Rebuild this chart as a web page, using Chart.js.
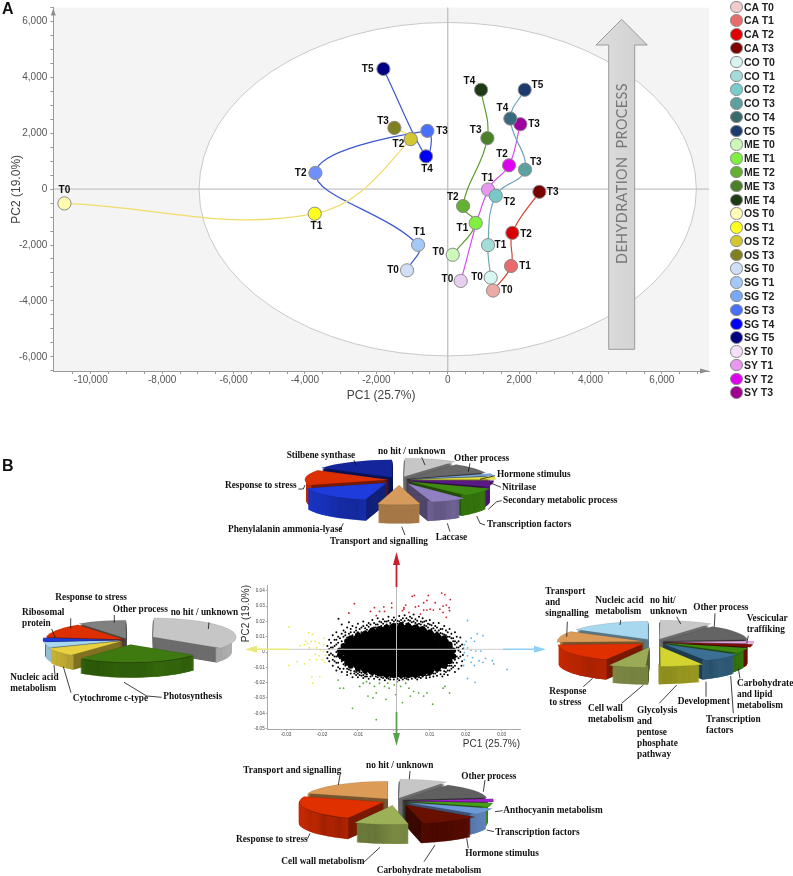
<!DOCTYPE html>
<html><head><meta charset="utf-8">
<script src="https://cdn.jsdelivr.net/npm/chart.js@4"></script>
<style>
html,body{margin:0;padding:0;background:#fff;width:793px;height:876px;overflow:hidden}
canvas{position:absolute}
#overlay{position:absolute;left:0;top:0;width:793px;height:876px;pointer-events:none}
.lab{position:absolute;font:bold 9.3px/11px "Liberation Serif",serif;color:#111;white-space:pre}
.panel{position:absolute;font:bold 16px "Liberation Sans",sans-serif;color:#111}
.leg{position:absolute;left:730px;font:bold 10.5px "Liberation Sans",sans-serif;color:#222;height:13px;line-height:13px;padding-left:14px;white-space:pre}
.leg i{position:absolute;left:0;top:0;width:10.5px;height:10.5px;border-radius:50%;border:1px solid #8a8a8a}
</style></head><body>
<canvas id="pca" width="720" height="406" style="left:0;top:0"></canvas>
<canvas id="mini" width="290" height="175" style="left:240px;top:575px"></canvas>
<canvas id="pieTop" width="260" height="260" style="left:269px;top:350px"></canvas>
<canvas id="pieLeft" width="260" height="260" style="left:-2px;top:510px"></canvas>
<canvas id="pieRight" width="260" height="260" style="left:525px;top:512px"></canvas>
<canvas id="pieBottom" width="260" height="260" style="left:265px;top:671px"></canvas>
<svg id="overlay" xmlns="http://www.w3.org/2000/svg"></svg>
<div class="panel" style="left:2px;top:0">A</div>
<div class="panel" style="left:2px;top:457px">B</div>
<script>
// ---- Panel A data ----
const timeNames=['T0','T1','T2','T3','T4','T5'];
const caPC1=[1270,1774,1811,2568];
const caPC2=[-3630,-2751,-1565,-95];
const coPC1=[1204,1130,1345,2166,1755,2157];
const coPC2=[-3167,-2004,-237,700,2526,3558];
const mePC1=[140,784,430,1111,934];
const mePC2=[-2348,-1210,-605,1826,3558];
const osPC1=[-10738,-3725,-1036,-1494];
const osPC2=[-510,-878,1791,2194];
const sgPC1=[-1139,-831,-3707,-570,-607,-1802];
const sgPC2=[-2906,-1992,581,2087,1174,4305];
const syPC1=[364,1130,1718,2035];
const syPC2=[-3285,-12,854,2325];
const caColors=['#eca9a6','#e86a6a','#d80000','#780000'];
const coColors=['#d8f6f2','#a4dcd8','#78c8c8','#5ca0a0','#3a6a80','#1c3a6e'];
const meColors=['#ccf8b8','#80f040','#64b030','#4a8028','#1e3a14'];
const osColors=['#fffcb0','#ffff20','#d4c830','#808020'];
const sgColors=['#cfe0f6','#a4c8f8','#6f90f8','#4870f8','#0000f0','#000080'];
const syColors=['#e6cff0','#e898f0','#e000f0','#a000a0'];
const xTicksA=[-10000,-8000,-6000,-4000,-2000,0,2000,4000,6000];
const yTicksA=[-6000,-4000,-2000,0,2000,4000,6000];
const ellipseRadiusPC1=6966, ellipseRadiusPC2=5968;

// ---- Panel A layout (pixel offsets of the T labels, kept apart from values) ----
const labelOffsets={
 CA:[[13.7,0],[14,0],[13.7,1],[13.3,0]],
 CO:[[-13.7,0],[12.3,0],[13.7,6],[10.7,-7.7],[-8,-10],[12.7,-5]],
 ME:[[-14.3,-2],[-13.3,5],[-10.3,-9],[-11.7,-7.7],[-11.7,-8.3]],
 OS:[[0,-12.7],[1.7,12.7],[-12.3,4.7],[-11.3,-6.7]],
 SG:[[-14,0],[1.3,-12.7],[-14.7,.7],[14.7,0],[1,13],[-15.7,0]],
 SY:[[-13.3,-1.7],[-.7,-11.7],[-7,-11],[13.7,0]]
};
function series(name,xs,ys,colors,lineColor){
 return {label:name,data:xs.map((x,i)=>({x,y:ys[i]})),showLine:true,tension:.4,borderColor:lineColor,borderWidth:1.2,
  pointBackgroundColor:colors,pointBorderColor:'#8c8c8c',pointBorderWidth:1,pointRadius:6.6,pointHoverRadius:6.6};
}
const pcaBackdrop={id:'pcaBackdrop',
 beforeDraw(c){const {ctx,chartArea:a,scales:{x,y}}=c;ctx.save();ctx.fillStyle='#f4f4f4';ctx.fillRect(a.left,a.top,a.width,a.height);
  const cx=x.getPixelForValue(0),cy=y.getPixelForValue(0);
  ctx.beginPath();ctx.ellipse(cx,cy,x.getPixelForValue(ellipseRadiusPC1)-cx,cy-y.getPixelForValue(ellipseRadiusPC2),0,0,Math.PI*2);
  ctx.fillStyle='#fff';ctx.fill();ctx.strokeStyle='#c9c9c9';ctx.lineWidth=1;ctx.stroke();
  ctx.strokeStyle='#c4c4c4';ctx.lineWidth=1.4;ctx.beginPath();ctx.moveTo(a.left,cy);ctx.lineTo(a.right,cy);ctx.moveTo(cx,a.top);ctx.lineTo(cx,a.bottom);ctx.stroke();ctx.restore();},
 afterDraw(c){const {ctx,chartArea:a}=c;ctx.save();ctx.fillStyle='#8c8c8c';
  ctx.beginPath();ctx.moveTo(a.left,a.top+1);ctx.lineTo(a.left-2.5,a.top+8);ctx.lineTo(a.left+2.5,a.top+8);ctx.fill();
  ctx.beginPath();ctx.moveTo(a.right,a.bottom);ctx.lineTo(a.right-9,a.bottom-2.5);ctx.lineTo(a.right-9,a.bottom+2.5);ctx.fill();
  ctx.font='bold 10px "Liberation Sans",sans-serif';ctx.fillStyle='#111';ctx.textAlign='center';ctx.textBaseline='middle';
  c.data.datasets.forEach((d,i)=>{const m=c.getDatasetMeta(i),off=labelOffsets[d.label];
   m.data.forEach((p,j)=>ctx.fillText(timeNames[j],p.x+off[j][0],p.y+off[j][1]));});
  ctx.restore();}
};
function minorTicks(scale,from,to,step){const t=[];for(let v=from;v<=to;v+=step)t.push({value:v});scale.ticks=t;}
const noEdge=s=>{s.paddingTop=0;s.paddingBottom=0;s.paddingLeft=0;s.paddingRight=0;};
new Chart(document.getElementById('pca'),{type:'scatter',
 data:{datasets:[series('CA',caPC1,caPC2,caColors,'#d2452c'),series('CO',coPC1,coPC2,coColors,'#6ea4b8'),series('ME',mePC1,mePC2,meColors,'#5f9a2e'),
  series('OS',osPC1,osPC2,osColors,'#f0dc6a'),series('SG',sgPC1,sgPC2,sgColors,'#3a58d0'),series('SY',syPC1,syPC2,syColors,'#d84cf0')]},
 plugins:[pcaBackdrop],
 options:{responsive:false,animation:false,layout:{padding:{top:5,right:11,left:0,bottom:0}},
  plugins:{legend:{display:false},tooltip:{enabled:false}},
  scales:{
   x:{type:'linear',min:-11050,max:7320,afterFit:s=>{s.height=35;noEdge(s)},afterBuildTicks:s=>minorTicks(s,-10500,7000,500),
    border:{color:'#999'},grid:{drawOnChartArea:false,color:'#999',tickLength:3},
    ticks:{autoSkip:false,maxRotation:0,padding:0,color:'#555',font:{family:'Liberation Sans',size:10},callback:v=>xTicksA.includes(v)?v.toLocaleString('en-US'):''},
    title:{display:true,text:'PC1 (25.7%)',color:'#444',font:{family:'Liberation Sans',size:12},padding:{top:0,bottom:3}}},
   y:{type:'linear',min:-6510,max:6500,afterFit:s=>{s.width=53.3;noEdge(s)},afterBuildTicks:s=>minorTicks(s,-6500,6500,500),
    border:{color:'#999'},grid:{drawOnChartArea:false,color:'#999',tickLength:3},
    ticks:{autoSkip:false,padding:3,color:'#555',font:{family:'Liberation Sans',size:10},callback:v=>yTicksA.includes(v)?v.toLocaleString('en-US'):''},
    title:{display:true,text:'PC2 (19.0%)',color:'#444',font:{family:'Liberation Sans',size:12},padding:{top:9,bottom:0}}}
  }}});

// ---- Legend ----
const legendNames=['CA T0','CA T1','CA T2','CA T3','CO T0','CO T1','CO T2','CO T3','CO T4','CO T5','ME T0','ME T1','ME T2','ME T3','ME T4','OS T0','OS T1','OS T2','OS T3','SG T0','SG T1','SG T2','SG T3','SG T4','SG T5','SY T0','SY T1','SY T2','SY T3'];
const legendColors=['#f0cccc','#e86a6a','#e00000','#800000','#d8f4f0','#a4dcd8','#78cccc','#5ca0a0','#3a6a6a','#1c3a6e','#ccf8b8','#80f040','#64b030','#4a8028','#1e3a14','#fffcb8','#ffff20','#d4c830','#808020','#cfe0f6','#a4c8f8','#78a8f8','#4870f8','#0000f8','#000080','#f4e0f8','#e898f0','#e000f0','#a00090'];
legendNames.forEach((n,i)=>{const d=document.createElement('div');d.className='leg';d.style.top=(0.6+i*13.78)+'px';d.textContent=n;
 const dot=document.createElement('i');dot.style.background=legendColors[i];d.appendChild(dot);document.body.appendChild(d);});

// ---- Panel B scatter data (in thousandths) ----
const miniTicksX=[-0.03,-0.02,-0.01,0,0.01,0.02,0.03];
const miniTicksY=[-0.05,-0.04,-0.03,-0.02,-0.01,0,0.01,0.02,0.03,0.04];
const redGenes=[[-11,31.6],[-12.5,25.5],[-6.5,26.5],[-5.4,29],[-4,26.5],[-2.8,29.5],[-.6,32],[-.6,29],[-2.6,26.5],[-4.9,23.8],[2.4,27],[2.8,29],[3.3,30.7],[5.1,36.4],[5.7,37],[9.6,37],[9.2,33.7],[8.3,32.2],[6,29.5],[6.9,30],[8.3,27.4],[9.2,27.4],[10.1,28],[11,27.4],[13.3,38.5],[14.2,37.5],[15.7,34.3],[13.7,30],[14.6,30.7],[15.4,29],[15.5,27],[12.8,28],[11.5,32.2],[13.7,25.9],[14.6,22.7],[7.4,24.8],[4.2,25.9],[2.8,28]];
const yellowGenes=[[-29.2,16.4],[-23.7,12.6],[-22.6,11.6],[-24.5,7],[-26,4.2],[-24.9,4.8],[-24,5.5],[-23,7],[-21.9,7],[-20.8,5.9],[-19.5,9],[-19.5,4.8],[-23.5,2.7],[-21.5,2.7],[-20.4,1.3],[-19.5,.6],[-21.9,-1.5],[-20.8,-2.5],[-23.5,-5],[-21.5,-5],[-19.9,-5],[-26.9,-6.3],[-29.2,-8.8],[-24.9,-7.8],[-22.8,-16.2],[-20.6,-16.2],[-22.6,-20.4],[-19.2,-6.7],[-19,-2.1]];
const greenGenes=[[-15.5,-18.3],[-15,-23.6],[-14,-23.6],[-9.5,-22.5],[-8.5,-20.4],[-6.7,-20.4],[-5.4,-22.5],[-4,-20.4],[-2.6,-22.5],[-1.3,-23.6],[.1,-21.5],[1.9,-22.5],[3.3,-20.4],[4.2,-23.6],[5.5,-25.7],[6.9,-26.7],[9.2,-26.7],[8.3,-28.8],[4.6,-28.8],[-7.2,-28.8],[-5.8,-29.9],[-4.9,-26.7],[-2.2,-30.9],[.5,-27.8],[2.4,-33],[10.8,-34.1],[-11.5,-36.8],[-4.9,-44.2],[14.2,-22.5],[15.5,-26.7],[13.7,-23.6],[-1.7,-20.4],[1,-19.4],[-7.6,-19.4]];
const blueGenes=[[20.5,20.6],[23.2,11.8],[24.8,10.7],[21.5,9],[22.4,7],[19.6,4.8],[20.5,2.7],[21.5,1.3],[22.8,.6],[24.2,.6],[19.6,-.4],[20.5,-2.5],[21.9,-3.6],[19.6,-5],[21.5,-6.7],[23.7,-5.7],[24.8,-6.7],[27.4,-5.7],[27.8,-7.8],[25.5,-4.2],[31.5,-11.4],[19.4,-8.8],[20.5,-17.3],[22.6,-19.8],[22.4,-8.8],[20.1,7],[19.4,2.7]];
const cloudCore=[[-3,10],[0,10.5],[3,11],[6,10],[-8,5],[-5,5.5],[-2,5],[1,5],[4,5.5],[7,5],[10,4.5],[-10,0],[-7,0],[-4,0],[-1,0],[2,0],[5,0],[8,0],[11,0],[13.5,0],[-8,-5],[-5,-5],[-2,-5],[1,-5],[4,-5],[7,-5],[10,-5],[12,-4.5],[-3,-9.5],[0,-10],[3,-10],[6,-9.5]];
const cloudShell=[[-12.5,0],[-12.5,3],[-12.5,-3],[-11.5,6],[-11.5,-6],[-10,8],[-10,-8],[-8,10],[-8,-10],[-6,12],[-6,-11.5],[-4,13],[-4,-12.5],[-2,14],[-2,-13],[0,15],[0,-13.5],[2,15],[2,-13.5],[4,15],[4,-13.5],[6,14.5],[6,-13],[8,13],[8,-12.5],[10,11],[10,-11],[12,9],[12,-9],[14,6],[14,-6],[15,3],[15,-3],[15.5,0]];
const cloudBand=[[-14,0],[-14,4],[-14,-4],[-13,7],[-13,-7],[-12,9],[-12,-9],[-10,11],[-10,-11],[-8,12],[-8,-12],[-6,14],[-6,-13],[-4,15],[-4,-14],[-2,16],[-2,-15],[0,17],[0,-15],[2,17.5],[2,-15],[4,17],[4,-15],[6,16],[6,-15],[8,15],[8,-14],[10,13],[10,-13],[12,11],[12,-11],[14,9],[14,-9],[15.5,5],[15.5,-6],[16.5,1],[16.5,-3],[-15,1],[-15,-2]];
const cloudFringe=[[-18,8],[-17,11],[-16,13],[-15.4,21.7],[-14.5,18],[-14,14],[-13.5,11],[-13,16],[-12.5,19.5],[-12,13],[-11.5,17],[-11,10],[-10.5,14],[-10,18.5],[-9.5,12],[-9,16],[-8.5,20],[-8,13.5],[-7.5,17.5],[-7,19],[-6.5,14.5],[-6,21],[-5.5,16],[-5,18],[-4.5,22],[-4,15.5],[-3.5,19.5],[-3,21.5],[-2.5,17],[-2,20],[-1.5,23],[-1,17.5],[-.5,21],[0,22.5],[.5,18],[1,20.5],[1.5,23.5],[2,19],[2.5,22],[3,24],[3.5,18.5],[4,21],[4.5,23],[5,19.5],[5.5,24.5],[6,21.5],[6.5,18],[7,23],[7.5,20],[8,22],[8.5,17.5],[9,20.5],[9.5,18.5],[10,21],[10.5,15],[11,19],[11.5,17],[12,13],[12.5,19],[13,15],[13.5,12],[14,17],[14.5,14],[15,10],[15.5,15],[16,12],[16.5,9],[17,13],[17.5,10],[18,7],[18.5,9.5],[19,5],
[-18.5,4],[-18.5,0],[-18.5,-4],[-18,2],[-18,-2],[-18,-6],[-17.5,6],[-17.5,-1],[-17,3],[-17,-5],[-17,-9],[-16.5,8],[-16.5,-3],[-16,0],[-16,5],[-16,-7],[-16,-12],[-15.5,10],[-15.5,-10],[-15,2],[-15,-4],[-14.5,7],[-14.5,-13],[-14,-8],[-13.5,4],[-13,-11],[-13,-15],
[19.2,2],[19.2,-2],[19,-6],[18.8,-9],[18.5,0],[18.5,4],[18,-4],[18,-11],[17.5,3],[17.5,-7],[17,7],[17,-2],[17,-13],[16.5,-10],[16,-6],[16,3.5],[15.5,-12],[15.5,6],[15,-9],[15,-15],
[-12,-14],[-11.5,-16.5],[-11,-12.5],[-10.5,-15],[-10,-16.5],[-9.5,-13],[-9,-15.5],[-8.5,-17],[-8,-14],[-7.5,-16],[-7,-17.5],[-6.5,-13.5],[-6,-15.5],[-5.5,-17.5],[-5,-14.5],[-4.5,-16.5],[-4,-18],[-3.5,-15],[-3,-17],[-2.5,-18.5],[-2,-15.5],[-1.5,-17.5],[-1,-18],[-.5,-16],[0,-18],[.5,-15.5],[1,-17.5],[1.5,-18.5],[2,-16],[2.5,-18],[3,-15.5],[3.5,-17.5],[4,-18],[4.5,-16],[5,-17.5],[5.5,-15],[6,-17],[6.5,-18],[7,-15.5],[7.5,-17],[8,-16],[8.5,-14],[9,-17],[9.5,-15],[10,-16.5],[10.5,-13.5],[11,-16],[11.5,-14],[12,-15.5],[12.5,-12],[13,-14.5],[13.5,-16],[14,-12.5],[14.5,-10.5],
[-17.5,3],[-17,-2],[-16.5,4],[-16.5,-6],[-16,8],[-16,-3],[-15.5,6],[-15.5,-7],[-15,9],[-15,-11],[-14.5,12],[-14.5,-6],[-14,10],[-14,-11],[-13.5,13],[-13.5,-9],[-13,9.5],[-13,-13],[-12.5,12],[-12.5,-11.5],[-12,15],[-12,-12],[-11.5,11],[-11,13],[-11,-14],[-10.5,16],[-10.5,-13],[-10,13],[-9.5,15],[-9.5,-15],[-9,13],[-9,-13.5],[-8.5,17],[-8.5,-15],[-8,15.5],[-7.5,14.5],[-7.5,-14.5],[-7,16.5],[-6.5,18],[-6.5,-16],[-6,15.5],[-5.5,19],[-5,16],[-5,-16],[-4.5,18],[-4,20],[-3.5,17],[-3.5,-16.5],[-3,18.5],[-2.5,20],[-2,18],[-1.5,20.5],[-1,19],[-.5,18],[0,20],[.5,21],[1,18.5],[1.5,20],[2,21],[2.5,19.5],[3,20.5],[3.5,22],[4,19],[4.5,20.5],[5,22],[5.5,20],[6,19],[6.5,20.5],[7,18.5],[7.5,18],[8,19.5],[8.5,20],[9,17],[9.5,16],[10,18],[10.5,17.5],[11,15.5],[11.5,14],[12,16],[12.5,14],[13,12.5],[13.5,15],[14,11.5],[14.5,11],[15,13],[15.5,10],[16,9],[16.5,7],[17,5],[17.5,6],[18,3],[18.5,-3],[18,1],[17.5,-3],[17,-5],[17,-9],[16.5,-7],[16,-9],[16,-11],[15.5,-9],[15,-12],[14.5,-13],[14,-14.5],[13,-12],[12,-13],[11,-14],[10,-15],[9,-15.5],[8,-15.5],[7,-16.5],[6,-16],[5,-16],[4,-16.5],[3,-17],[2,-17],[1,-16],[0,-16.5],[-1,-16.5],[-2,-17],[-6,-14.5],[-8,-16],[-10,-14]];
const toPts=a=>a.map(p=>({x:p[0]/1000,y:p[1]/1000}));
const miniSet=(name,arr,color,r)=>({label:name,data:toPts(arr),backgroundColor:color,borderWidth:0,pointRadius:r,pointHoverRadius:r});
const tickFont={family:'Liberation Sans',size:4.6};
new Chart(document.getElementById('mini'),{type:'scatter',
 data:{datasets:[miniSet('core',cloudCore,'#000',10),miniSet('shell',cloudShell,'#000',5),miniSet('band',cloudBand,'#000',3),miniSet('fringe',cloudFringe,'#000',1),
  miniSet('red',redGenes,'#c8202a',.9),miniSet('yellow',yellowGenes,'#f0e84a',.9),miniSet('green',greenGenes,'#58a838',.9),miniSet('blue',blueGenes,'#58b4ee',.9)]},
 options:{responsive:false,animation:false,layout:{padding:{top:5,right:5}},
  plugins:{legend:{display:false},tooltip:{enabled:false}},
  scales:{
   x:{type:'linear',min:-0.0351,max:0.0351,afterFit:s=>{s.height=21;noEdge(s)},afterBuildTicks:s=>{s.ticks=miniTicksX.map(value=>({value}))},
    border:{color:'#aaa'},grid:{drawOnChartArea:false,color:'#aaa',tickLength:2},
    ticks:{autoSkip:false,maxRotation:0,padding:1,color:'#444',font:tickFont,callback:v=>v===0?'':v.toFixed(2)},
    title:{display:true,align:'end',text:'PC1 (25.7%)',color:'#333',font:{family:'Liberation Sans',size:10},padding:0}},
   y:{type:'linear',min:-0.0503,max:0.0438,afterFit:s=>{s.width=27.7;noEdge(s)},afterBuildTicks:s=>{s.ticks=miniTicksY.map(value=>({value}))},
    border:{color:'#aaa'},grid:{drawOnChartArea:false,color:'#aaa',tickLength:2},
    ticks:{autoSkip:false,padding:1,color:'#444',font:tickFont,callback:v=>v===0?'0':v.toFixed(2)},
    title:{display:true,align:'end',text:'PC2 (19.0%)',color:'#333',font:{family:'Liberation Sans',size:10},padding:0}}
  }}});

// ---- Panel B pies ----
const topPieNames=['no hit / unknown','Other process','Hormone stimulus','Nitrilase','Secondary metabolic process','Transcription factors','Laccase','Transport and signalling','Phenylalanin ammonia-lyase','Response to stress','Stilbene synthase'];
const topPieValues=[10,9.5,2.5,3,6,8,7,8,16,14,16];
const topPieColors=['#c6c6c6','#686868','#7aa8d8','#e8e040','#5a1a86','#3f8a10','#9080c0','#d69a5c','#1e3cdc','#dc3000','#14259c'];
const topPieBurst=[16,8,8,8,8,12,18,24,18,10,14];
const leftPieNames=['no hit / unknown','Photosynthesis','Cytochrome c-type','Nucleic acid\nmetabolism','Ribosomal\nprotein','Response to stress','Other process'];
const leftPieValues=[35,26,7.5,5,3.5,13,10];
const leftPieColors=['#c6c6c6','#3f7a10','#e8d040','#a8d8f0','#1e3cdc','#dc3000','#808080'];
const leftPieBurst=[28,20,6,4,4,4,6];
const rightPieNames=['no hit/\nunknown','Other process','Vescicular\ntraffiking','Carbohydrate\nand lipid\nmetabolism','Transcription\nfactors','Development','Glycolysis\nand\npentose\nphosphate\npathway','Cell wall\nmetabolism','Response\nto stress','Transport\nand\nsingnalling','Nucleic acid\nmetabolism'];
const rightPieValues=[10,14,2.5,3,5,8,8,7,17,10,16];
const rightPieColors=['#c8c8c8','#646464','#e8a8e8','#7a1000','#3e8a10','#3b6f93','#d4d430','#9aaa55','#e03000','#dc9a58','#a8d8f0'];
const rightPieBurst=[14,8,8,8,8,12,22,24,14,10,14];
const bottomPieNames=['no hit / unknown','Other process','Anthocyanin metabolism','Transcription factors','Hormone stimulus','Carbohydrate metabolism','Cell wall metabolism','Response to stress','Transport and signalling'];
const bottomPieValues=[9,14,3,4,6,11,10,23,20];
const bottomPieColors=['#c6c6c6','#606060','#a020d0','#45a018','#6e98d8','#6a1000','#9cb058','#e03000','#dc9c58'];
const bottomPieBurst=[14,8,8,8,12,20,20,12,12];

// Layout of the printed labels and leader lines, apart from the values above.
const topPieSpots=[[378,451.7],[454,458],[497,474.7],[502,487],[503,500],[487,524],[435.7,537],[330,541],[228,529],[225,485.7],[286.7,455]];
const leftPieSpots=[[170.7,612.7],[163.3,696],[72.7,698],[10.3,683.3],[22,618],[55.3,597.7],[112.7,609]];
const rightPieSpots=[[650,606.2],[693.3,607.3],[746.7,624.3],[737,694],[706,724.6],[677.7,701.3],[637,732.8],[588,713.5],[549.3,697],[545.3,602.3],[595.3,606.2]];
const bottomPieSpots=[[366,765.3],[461.3,776],[503.3,810.3],[495.3,832],[465.3,853.7],[376.7,870.3],[281.3,861],[236,839.7],[243.3,770]];
const leaderGroups=[
 {ox:220,oy:430,lines:[[402,90,408,108],[605,82,615,105],[750,100,745,125],[825,137,780,148],[843,172,810,158],[845,212,830,215,805,238],[795,285,780,280,770,258],[690,305,682,280],[555,315,545,290],[360,300,370,280],[235,177,250,177,255,165]]},
 {ox:0,oy:560,lines:[[212,175,212,205],[343,165,343,188],[627,187,625,207],[155,207,165,232],[165,345,162,315],[213,398,190,320],[485,412,440,408,372,367]]},
 {ox:530,oy:570,lines:[[112,155,110,200],[272,150,270,165],[440,140,452,162],[555,130,553,170],[655,197,650,220],[630,325,625,295],[610,430,602,318],[528,380,528,335],[388,400,440,345],[275,400,340,345],[160,350,188,325]]},
 {ox:220,oy:750,lines:[[360,75,355,105],[570,63,568,88],[795,90,790,125],[848,182,825,185],[822,245,800,240],[745,295,740,265],[612,335,645,285],[430,338,480,292],[262,268,270,250]]}
];
function shade(hex,k){const n=parseInt(hex.slice(1),16);return 'rgb('+[(n>>16)&255,(n>>8)&255,n&255].map(v=>Math.round(v*k)).join(',')+')';}
const flatPie={id:'flatPie',
 beforeDatasetsDraw(c){const {squash,depth}=c.options.plugins.flatPie,ctx=c.ctx,arcs=c.getDatasetMeta(0).data.slice();
  const cx=arcs[0].x,cy=arcs[0].y;ctx.save();ctx.translate(cx,cy);ctx.scale(1,squash);ctx.translate(-cx,-cy);
  const mid=a=>(a.startAngle+a.endAngle)/2;
  arcs.sort((p,q)=>Math.sin(mid(p))-Math.sin(mid(q)));
  arcs.forEach(a=>{const off=(a.options.offset||0)/4,m=mid(a),ax=a.x+Math.cos(m)*off,ay=a.y+Math.sin(m)*off,col=a.options.backgroundColor;
   for(let d=depth;d>=1;d-=.5){const yy=ay+d/squash;
    ctx.beginPath();ctx.moveTo(ax,yy);ctx.arc(ax,yy,a.outerRadius,a.startAngle,a.endAngle);ctx.closePath();ctx.fillStyle=shade(col,.55);ctx.fill();
    ctx.beginPath();ctx.arc(ax,yy,a.outerRadius,a.startAngle,a.endAngle);ctx.strokeStyle=shade(col,.88);ctx.lineWidth=2;ctx.stroke();}
  });},
 afterDatasetsDraw(c){c.ctx.restore();}
};
function pie(id,names,values,colors,burst,radius,squash,depth){
 return new Chart(document.getElementById(id),{type:'pie',
  data:{labels:names,datasets:[{data:values,backgroundColor:colors,offset:burst.map(b=>b*4),borderWidth:.6,borderColor:'rgba(0,0,0,.25)',clip:false}]},
  plugins:[flatPie],
  options:{responsive:false,animation:false,radius,plugins:{legend:{display:false},tooltip:{enabled:false},flatPie:{squash,depth}}}});
}
pie('pieTop',topPieNames,topPieValues,topPieColors,topPieBurst,82,.21,21);
pie('pieLeft',leftPieNames,leftPieValues,leftPieColors,leftPieBurst,78,.23,15);
pie('pieRight',rightPieNames,rightPieValues,rightPieColors,rightPieBurst,84,.21,20);
pie('pieBottom',bottomPieNames,bottomPieValues,bottomPieColors,bottomPieBurst,84,.21,21);

function placeLabels(names,spots){names.forEach((n,i)=>{const d=document.createElement('div');d.className='lab';d.textContent=n;
 const lines=n.split('\n').length;d.style.left=spots[i][0]+'px';d.style.top=(spots[i][1]-lines*5.5)+'px';document.body.appendChild(d);});}
placeLabels(topPieNames,topPieSpots);placeLabels(leftPieNames,leftPieSpots);placeLabels(rightPieNames,rightPieSpots);placeLabels(bottomPieNames,bottomPieSpots);

// ---- Overlay: leader lines, gene-group arrows, dehydration arrow ----
let svg='<defs><linearGradient id="gr" x1="0" x2="1" y1="0" y2="0"><stop offset="0" stop-color="#dedede"/><stop offset="1" stop-color="#cfcfcf"/></linearGradient></defs>';
svg+='<polygon points="621.7,19.3 647.3,45 634.7,45 634.7,349.3 608.7,349.3 608.7,45 596,45" fill="url(#gr)" stroke="#9a9a9a" stroke-width="1"/>';
svg+='<text transform="translate(626.5,173.5) rotate(-90)" text-anchor="middle" xml:space="preserve" font-family="Lato" font-size="14.4" letter-spacing=".4" fill="#777">DEHYDRATION  PROCESS</text>';
leaderGroups.forEach(g=>g.lines.forEach(l=>{const pts=[];for(let i=0;i<l.length;i+=2)pts.push((g.ox+l[i]/3).toFixed(1)+','+(g.oy+l[i+1]/3).toFixed(1));
 svg+='<polyline points="'+pts.join(' ')+'" fill="none" stroke="#111" stroke-width=".8"/>';}));
const cx=396.5,cy=649.3;
svg+='<line x1="290" y1="'+cy+'" x2="503" y2="'+cy+'" stroke="#cfcfcf" stroke-width="1"/><line x1="'+cx+'" y1="586" x2="'+cx+'" y2="712" stroke="#bbb" stroke-width="1"/>';
svg+='<line x1="290" y1="'+cy+'" x2="252" y2="'+cy+'" stroke="#ece97a" stroke-width="1.6"/><polygon points="245,'+cy+' 257,'+(cy-3.5)+' 257,'+(cy+3.5)+'" fill="#ece97a"/>';
svg+='<line x1="503" y1="'+cy+'" x2="538" y2="'+cy+'" stroke="#8fd0f5" stroke-width="1.6"/><polygon points="546,'+cy+' 534,'+(cy-3.5)+' 534,'+(cy+3.5)+'" fill="#8fd0f5"/>';
svg+='<line x1="'+cx+'" y1="587" x2="'+cx+'" y2="560" stroke="#c8202a" stroke-width="1.8"/><polygon points="'+cx+',552 '+(cx-3.5)+',565 '+(cx+3.5)+',565" fill="#c8202a"/>';
svg+='<line x1="'+cx+'" y1="712" x2="'+cx+'" y2="738" stroke="#58a050" stroke-width="1.8"/><polygon points="'+cx+',746 '+(cx-3.5)+',733 '+(cx+3.5)+',733" fill="#58a050"/>';
document.getElementById('overlay').innerHTML=svg;
</script>
</body></html>
